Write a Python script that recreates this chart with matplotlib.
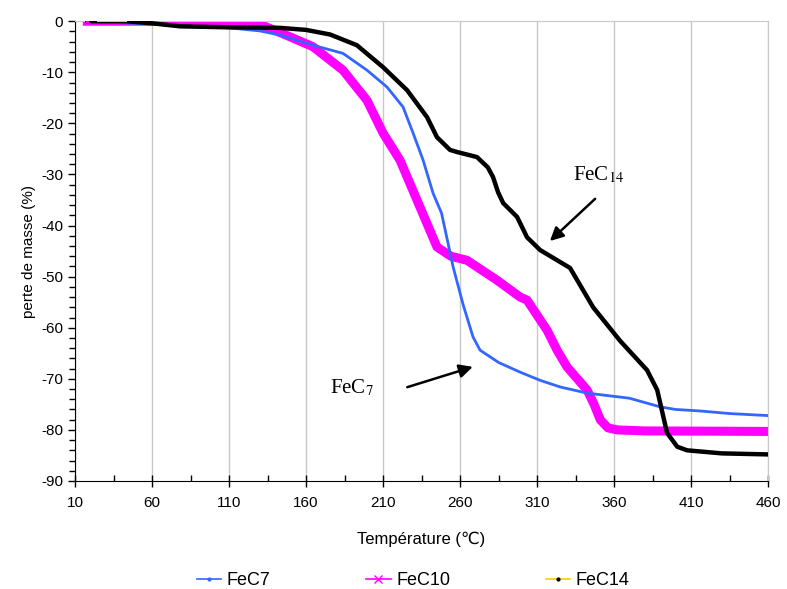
import numpy as np
import matplotlib
matplotlib.use("Agg")
import matplotlib.pyplot as plt
from matplotlib.lines import Line2D
from matplotlib.ticker import MultipleLocator

plt.rcParams['font.family'] = ['Liberation Sans', 'DejaVu Sans']
plt.rcParams['axes.unicode_minus'] = False

# FeC7 (blue)
t_fec7 = [18, 40, 80, 110, 130, 143, 164.5, 184, 199.6, 212.6, 223, 229.5, 236, 242.5,
          248, 255.5, 262, 268.4, 273, 285, 299, 312, 325, 342.5, 370, 390, 400, 416, 435, 460]
m_fec7 = [0, -0.3, -0.9, -1.3, -1.9, -2.7, -4.7, -6.3, -9.6, -12.9, -16.8, -21.9, -27.2,
          -33.7, -37.6, -48.1, -55.5, -61.8, -64.4, -66.8, -68.7, -70.3, -71.6, -72.8,
          -73.8, -75.5, -76, -76.3, -76.8, -77.2]

# FeC10 (magenta)
t_fec10 = [18, 60, 110, 130, 143, 164.5, 184, 199.6, 210, 221, 234, 245, 254, 264.5,
           284, 299, 303.5, 316.5, 323, 329.5, 342.5, 347, 351, 356, 362, 380, 460]
m_fec10 = [0, 0, 0, -0.6, -2.2, -5, -9.6, -15.5, -21.9, -27.2, -36.4, -44.2, -46,
           -46.8, -50.7, -54, -54.6, -60.5, -64.4, -67.7, -72.2, -75, -78, -79.6, -80,
           -80.2, -80.3]

# FeC14 (black)
t_fec14 = [18, 43, 60, 78, 110, 143, 160, 175.6, 193, 210, 225.6, 238.6, 245, 253.5, 258,
           271, 278, 281.4, 284.7, 288, 297, 303.5, 312, 331.4, 346.4, 364, 381.4, 388,
           394.4, 401, 407.4, 430, 460]
m_fec14 = [0, 0, -0.4, -1.0, -1.2, -1.3, -1.7, -2.6, -4.7, -9, -13.5, -18.8, -22.7, -25.2,
           -25.6, -26.6, -28.6, -30.5, -33.5, -35.6, -38.3, -42.3, -44.8, -48.3, -56, -62.6,
           -68.3, -72.2, -80.6, -83.3, -84, -84.6, -84.8]

fig, ax = plt.subplots(figsize=(7.87, 5.89), dpi=100)
fig.subplots_adjust(left=0.0953, right=0.976, top=0.964, bottom=0.1834)

blue = '#3366ff'
magenta = '#ff00ff'
gold = '#ffcc00'

ax.plot(t_fec7, m_fec7, color=blue, lw=2, zorder=3, solid_joinstyle='round')
ax.plot(t_fec10, m_fec10, color=magenta, lw=6.5, zorder=2, solid_joinstyle='round')
ax.plot(t_fec14, m_fec14, color='black', lw=3.2, zorder=4, solid_joinstyle='round')
ax.plot([25, 43], [0, 0], color=gold, lw=1.5, zorder=5)
ax.plot([18], [0], marker='x', color=magenta, markersize=5, zorder=6)

ax.set_xlim(10, 460)
ax.set_ylim(-90, 0)
ax.xaxis.set_major_locator(MultipleLocator(50, offset=10))
ax.xaxis.set_minor_locator(MultipleLocator(25, offset=10))
ax.yaxis.set_major_locator(MultipleLocator(10))
ax.yaxis.set_minor_locator(MultipleLocator(2))
ax.grid(axis='x', which='major', color='#c8c8c8', lw=1)
ax.set_axisbelow(True)

ax.tick_params(axis='x', which='major', direction='inout', length=9, width=1, labelsize=11, pad=6)
ax.tick_params(axis='x', which='minor', direction='in', length=4, width=1)
ax.tick_params(axis='y', which='major', direction='out', length=5, width=1, labelsize=11)
ax.tick_params(axis='y', which='minor', direction='out', length=4, width=1)

for s in ['top', 'right']:
    ax.spines[s].set_color('#c8c8c8')

ax.set_xlabel('Température (℃)', fontsize=12, labelpad=16)
ax.set_ylabel('perte de masse (%)', fontsize=11)

ax.text(190, -71.8, 'FeC$_7$', family='Liberation Serif', fontsize=15, ha='center', va='center',
        math_fontfamily='stix')
ax.annotate('', xy=(270, -67.5), xytext=(224, -71.8),
            arrowprops=dict(arrowstyle='-|>', color='black', lw=1.8, mutation_scale=20))
ax.text(350, -30.1, 'FeC$_{14}$', family='Liberation Serif', fontsize=15, ha='center', va='center',
        math_fontfamily='stix')
ax.annotate('', xy=(317, -43.4), xytext=(349, -34.4),
            arrowprops=dict(arrowstyle='-|>', color='black', lw=1.8, mutation_scale=20))

handles = [
    Line2D([], [], color=blue, lw=1.2, marker='.', markersize=4, markerfacecolor=blue),
    Line2D([], [], color=magenta, lw=1.2, marker='x', markersize=6, markeredgecolor=magenta),
    Line2D([], [], color=gold, lw=1.2, marker='.', markersize=4, markerfacecolor='black',
           markeredgecolor='black'),
]
fig.legend(handles, ['FeC7', 'FeC10', 'FeC14'], loc='lower center', ncol=3, frameon=False,
           fontsize=13, bbox_to_anchor=(0.525, -0.028), columnspacing=5.3, handlelength=1.35,
           handletextpad=0.3)

fig.savefig('out.png', dpi=100)
